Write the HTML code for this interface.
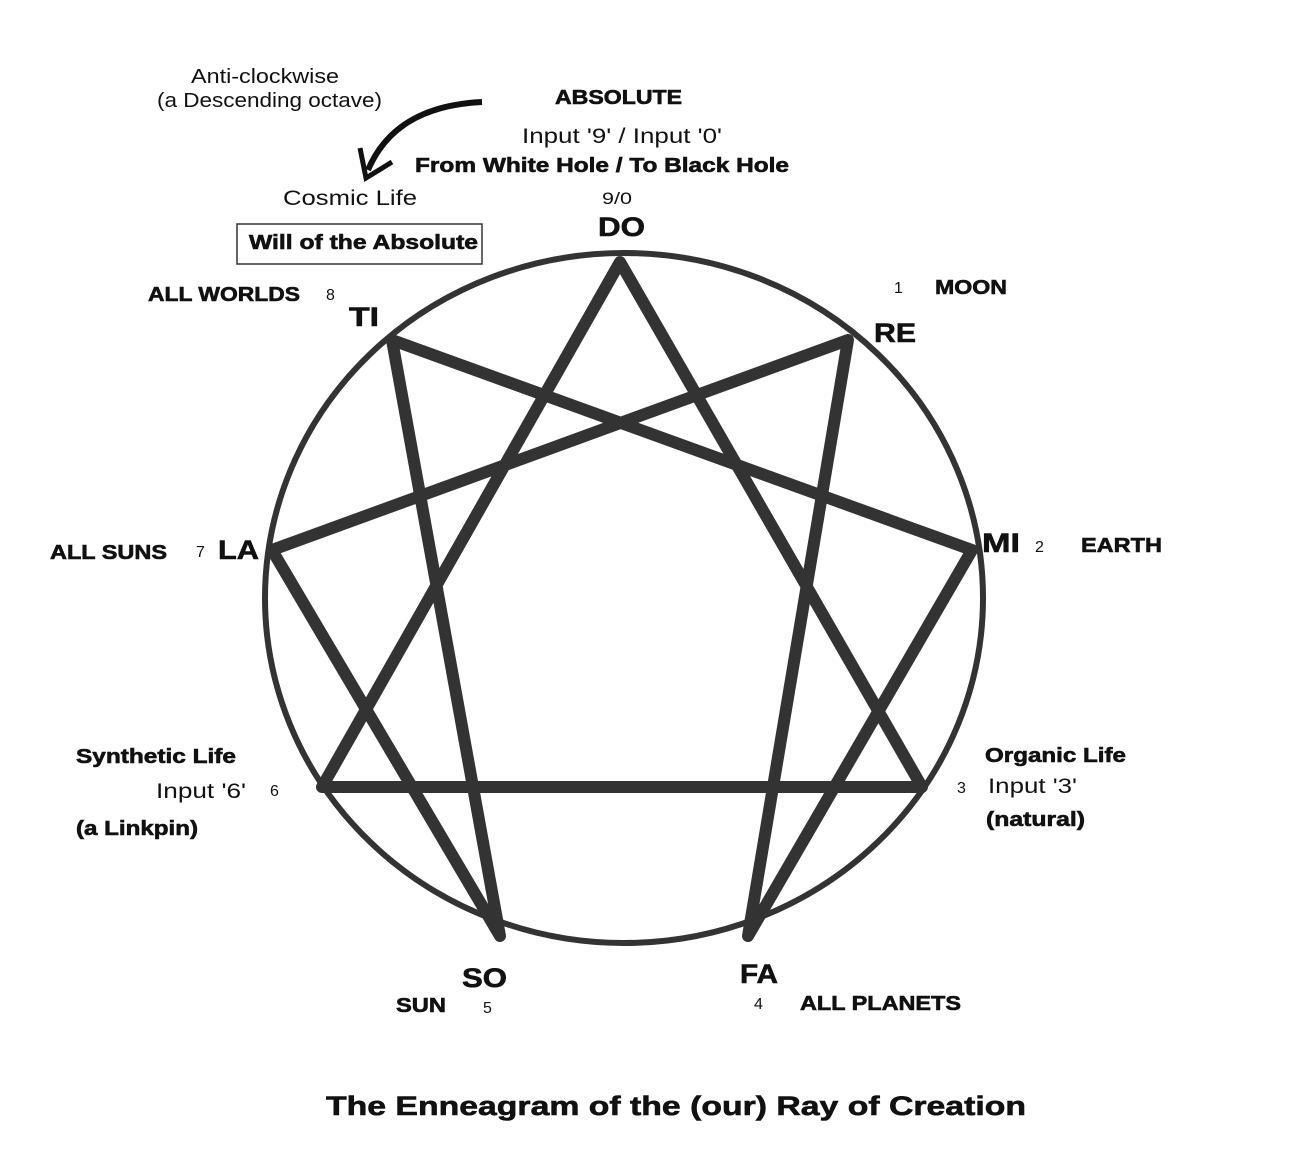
<!DOCTYPE html>
<html><head><meta charset="utf-8"><style>
body{margin:0;background:#fff;}
svg{display:block;}
text{font-family:"Liberation Sans",Arial,sans-serif;fill:#111;}
.b{font-weight:bold;stroke:#111;stroke-width:0.6;}
</style></head><body>
<svg width="1310" height="1158" viewBox="0 0 1310 1158" xmlns="http://www.w3.org/2000/svg">
<ellipse cx="624" cy="598" rx="359" ry="345" fill="none" stroke="#333" stroke-width="6"/>
<g stroke="#333" stroke-width="12" fill="none" stroke-linejoin="round" stroke-linecap="round">
<polyline points="848,340 748,936 972,550 392,340 500,936 272,550 848,340"/>
<polygon points="620,262 922,787 322,787"/>
</g>
<path d="M482,102 C420,105 385,130 368,170" fill="none" stroke="#111" stroke-width="6"/>
<polyline points="360,148 366,178 392,162" fill="none" stroke="#111" stroke-width="5"/>
<rect x="237" y="224" width="245" height="40" fill="none" stroke="#333" stroke-width="1.5"/>
<g font-size="20">
<text x="191" y="83" textLength="148" lengthAdjust="spacingAndGlyphs">Anti-clockwise</text>
<text x="157" y="107" textLength="225" lengthAdjust="spacingAndGlyphs">(a Descending octave)</text>
<text x="555" y="104" class="b" textLength="127" lengthAdjust="spacingAndGlyphs">ABSOLUTE</text>
<text x="522" y="143" font-size="21" fill="#444" textLength="200" lengthAdjust="spacingAndGlyphs">Input '9' / Input '0'</text>
<text x="415" y="172" class="b" textLength="374" lengthAdjust="spacingAndGlyphs">From White Hole / To Black Hole</text>
<text x="283" y="205" font-size="21" textLength="134" lengthAdjust="spacingAndGlyphs">Cosmic Life</text>
<text x="249" y="249" class="b" textLength="229" lengthAdjust="spacingAndGlyphs">Will of the Absolute</text>
<text x="602" y="204" font-size="17" textLength="30" lengthAdjust="spacingAndGlyphs">9/0</text>
<text x="598" y="236" class="b" font-size="27" textLength="47" lengthAdjust="spacingAndGlyphs">DO</text>
<text x="148" y="301" class="b" textLength="152" lengthAdjust="spacingAndGlyphs">ALL WORLDS</text>
<text x="326" y="300" font-size="16">8</text>
<text x="349" y="326" class="b" font-size="27" textLength="30" lengthAdjust="spacingAndGlyphs">TI</text>
<text x="894" y="293" font-size="16">1</text>
<text x="935" y="294" class="b" textLength="72" lengthAdjust="spacingAndGlyphs">MOON</text>
<text x="874" y="342" class="b" font-size="27" textLength="42" lengthAdjust="spacingAndGlyphs">RE</text>
<text x="50" y="559" class="b" textLength="117" lengthAdjust="spacingAndGlyphs">ALL SUNS</text>
<text x="196" y="557" font-size="16">7</text>
<text x="218" y="559" class="b" font-size="27" textLength="41" lengthAdjust="spacingAndGlyphs">LA</text>
<text x="982" y="552" class="b" font-size="27" textLength="38" lengthAdjust="spacingAndGlyphs">MI</text>
<text x="1035" y="552" font-size="16">2</text>
<text x="1081" y="552" class="b" textLength="81" lengthAdjust="spacingAndGlyphs">EARTH</text>
<text x="76" y="763" class="b" textLength="160" lengthAdjust="spacingAndGlyphs">Synthetic Life</text>
<text x="156" y="798" font-size="21" fill="#444" textLength="90" lengthAdjust="spacingAndGlyphs">Input '6'</text>
<text x="270" y="796" font-size="16">6</text>
<text x="76" y="835" class="b" textLength="122" lengthAdjust="spacingAndGlyphs">(a Linkpin)</text>
<text x="985" y="762" class="b" textLength="141" lengthAdjust="spacingAndGlyphs">Organic Life</text>
<text x="957" y="793" font-size="16">3</text>
<text x="988" y="793" font-size="21" fill="#444" textLength="89" lengthAdjust="spacingAndGlyphs">Input '3'</text>
<text x="986" y="826" class="b" textLength="99" lengthAdjust="spacingAndGlyphs">(natural)</text>
<text x="462" y="987" class="b" font-size="27" textLength="45" lengthAdjust="spacingAndGlyphs">SO</text>
<text x="396" y="1012" class="b" textLength="50" lengthAdjust="spacingAndGlyphs">SUN</text>
<text x="483" y="1013" font-size="16">5</text>
<text x="740" y="983" class="b" font-size="27" textLength="38" lengthAdjust="spacingAndGlyphs">FA</text>
<text x="754" y="1009" font-size="16">4</text>
<text x="800" y="1010" class="b" textLength="161" lengthAdjust="spacingAndGlyphs">ALL PLANETS</text>
<text x="326" y="1115" class="b" font-size="27" textLength="700" lengthAdjust="spacingAndGlyphs">The Enneagram of the (our) Ray of Creation</text>
</g>
</svg>
</body></html>
